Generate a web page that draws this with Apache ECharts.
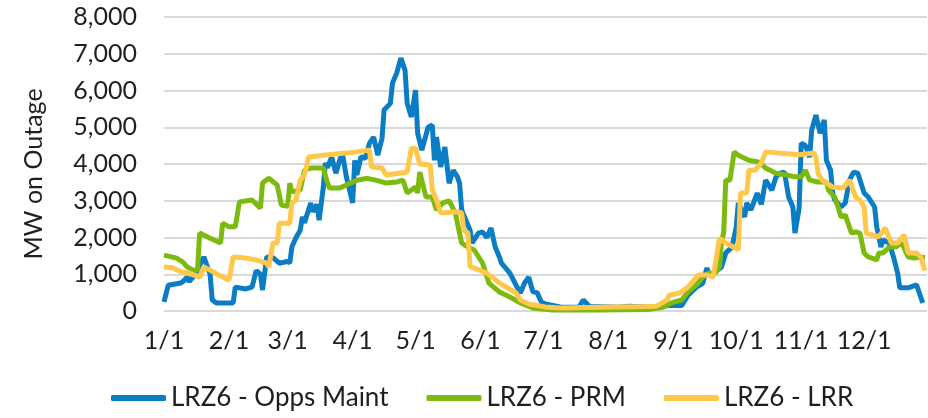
<!DOCTYPE html>
<html>
<head>
<meta charset="utf-8">
<script src="https://cdn.jsdelivr.net/npm/echarts@6/dist/echarts.min.js"></script>
<style>
  html, body { margin: 0; padding: 0; background: #fff; }
  #chart { width: 928px; height: 418px; }
</style>
</head>
<body>
<div id="chart"></div>
<script>
// month lengths of the year, used to build one category per day
var monthDays = [31, 28, 31, 30, 31, 30, 31, 31, 30, 31, 30, 31];
var monthTicks = ['1/1', '2/1', '3/1', '4/1', '5/1', '6/1', '7/1', '8/1', '9/1', '10/1', '11/1', '12/1'];
var yTicks = [0, 1000, 2000, 3000, 4000, 5000, 6000, 7000, 8000];

// [day of year (0 = 1/1), MW]
var oppsMaint = [
  [0, 250], [2, 700], [8, 760], [9, 800], [11, 920], [12, 800], [15, 1000], [19, 1470],
  [22, 1000], [23, 300], [25, 220], [33, 220], [34, 650], [39, 600], [42, 650], [44, 1100],
  [46, 1000], [47, 570], [49, 1470], [52, 1450], [55, 1300], [59, 1350], [60, 1300], [61, 1740],
  [63, 2000], [65, 2200], [66, 2560], [67, 2400], [70, 2940], [71, 2700], [73, 2900], [74, 2470],
  [76, 3370], [77, 4030], [78, 3900], [80, 4190], [82, 3750], [85, 4330], [87, 3650], [90, 2940],
  [91, 4100], [92, 3700], [94, 4200], [96, 4150], [98, 4560], [100, 4730], [102, 4240], [104, 4700],
  [105, 5470], [108, 5650], [109, 6200], [111, 6470], [113, 6880], [115, 6550], [116, 5650], [118, 5280],
  [120, 6010], [121, 4840], [123, 4380], [126, 5000], [128, 5060], [129, 4100], [130, 4730], [132, 3920],
  [134, 4460], [136, 3480], [138, 3830], [140, 3650], [141, 3480], [142, 2750], [144, 2480], [146, 2200],
  [147, 1850], [150, 2120], [152, 2150], [154, 2000], [156, 2260], [158, 1740], [160, 1470], [161, 1300],
  [165, 1030], [168, 700], [170, 490], [172, 760], [174, 920], [176, 520], [178, 500], [180, 245],
  [182, 190], [189, 110], [193, 100], [198, 100], [200, 300], [203, 120], [217, 100], [222, 130],
  [231, 100], [241, 150], [247, 150], [250, 430], [254, 650], [257, 750], [259, 1170], [260, 1000],
  [262, 1030], [266, 1200], [268, 1580], [271, 1740], [273, 2290], [274, 2940], [277, 2560], [278, 2940],
  [280, 2750], [283, 3210], [285, 2900], [287, 3560], [290, 3290], [292, 3650], [294, 3750], [296, 3780],
  [298, 3100], [300, 2830], [301, 2120], [303, 2800], [304, 4570], [306, 4500], [308, 4190], [309, 4920],
  [311, 5330], [313, 4840], [315, 5200], [316, 4100], [318, 3830], [319, 3210], [320, 3020], [323, 2830],
  [325, 2940], [327, 3560], [329, 3780], [331, 3750], [334, 3210], [336, 3100], [339, 2830], [340, 2290],
  [342, 1740], [343, 1930], [346, 1850], [348, 1470], [350, 1030], [351, 630], [355, 630], [359, 710],
  [361, 380], [362, 220]
];

var prm = [
  [0, 1520], [3, 1480], [6, 1440], [9, 1330], [11, 1200], [14, 1110], [16, 1110], [17, 2120],
  [22, 1980], [27, 1850], [28, 2390], [31, 2290], [34, 2290], [36, 2970], [42, 3020], [46, 2800],
  [47, 3480], [50, 3610], [54, 3430], [56, 2880], [59, 2850], [60, 3480], [61, 3240], [65, 3290],
  [67, 3830], [70, 3890], [76, 3890], [78, 3480], [79, 3350], [84, 3350], [87, 3430], [92, 3560],
  [97, 3610], [101, 3560], [106, 3480], [111, 3510], [114, 3560], [116, 3210], [120, 3370], [121, 3210],
  [122, 3780], [125, 3100], [128, 3100], [130, 2750], [133, 2940], [136, 3000], [139, 2670], [140, 2390],
  [142, 1850], [145, 1740], [148, 1660], [152, 1300], [155, 760], [160, 520], [165, 380], [170, 220],
  [176, 80], [185, 30], [208, 30], [231, 40], [238, 100], [242, 220], [247, 300], [250, 520],
  [254, 710], [257, 920], [260, 1030], [263, 1030], [265, 1200], [266, 1930], [267, 2120], [268, 3560],
  [270, 3560], [272, 4330], [274, 4240], [279, 4100], [284, 4050], [287, 3890], [292, 3750], [297, 3700],
  [301, 3650], [304, 3650], [306, 3830], [308, 3560], [312, 3510], [316, 3510], [317, 3290], [320, 3100],
  [322, 2750], [323, 2560], [325, 2610], [328, 2120], [330, 2150], [332, 2120], [334, 1580], [336, 1470],
  [340, 1390], [341, 1580], [343, 1580], [346, 1740], [349, 1740], [352, 1850], [355, 1470], [358, 1440],
  [361, 1470], [363, 1450]
];

var lrr = [
  [0, 1200], [4, 1180], [8, 1070], [12, 1030], [17, 920], [19, 1200], [23, 1080], [28, 920],
  [31, 840], [33, 1470], [38, 1450], [44, 1390], [49, 1300], [50, 1200], [52, 1850], [54, 1850],
  [55, 2390], [60, 2390], [61, 2940], [63, 3020], [65, 3560], [67, 3700], [69, 4190], [76, 4240],
  [92, 4330], [98, 4380], [99, 3920], [104, 3890], [106, 3700], [112, 3750], [116, 3780], [118, 4430],
  [120, 4430], [122, 4000], [127, 3970], [128, 3290], [130, 3020], [132, 2670], [140, 2700], [142, 2670],
  [143, 2200], [145, 2120], [146, 1200], [148, 1170], [154, 1030], [160, 760], [168, 490], [170, 300],
  [174, 190], [182, 110], [189, 80], [208, 100], [231, 120], [235, 130], [240, 300], [241, 430],
  [246, 490], [250, 650], [255, 980], [259, 980], [262, 920], [265, 1980], [268, 1850], [273, 1700],
  [274, 1660], [275, 3210], [278, 3210], [279, 3830], [282, 3830], [285, 4030], [287, 4330], [303, 4250],
  [310, 4300], [311, 4190], [312, 3750], [314, 3560], [319, 3370], [324, 3350], [327, 3560], [330, 3100],
  [332, 3020], [334, 2830], [335, 2120], [341, 2020], [344, 2260], [347, 1850], [350, 1850], [353, 2070],
  [355, 1580], [359, 1580], [361, 1470], [363, 1100]
];

var days = [];
monthDays.forEach(function (n, m) {
  for (var d = 1; d <= n; d++) days.push((m + 1) + '/' + d);
});

var chart = echarts.init(document.getElementById('chart'), null, { renderer: 'canvas' });

var textColor = '#1f1f1f';
var fontFamily = 'Lato';
var fontSize = 25;

chart.setOption({
  animation: false,
  color: ['#0B7DC4', '#7CBA10', '#FFC84A'],
  grid: { left: 164, right: 1, top: 17, bottom: 107 },
  legend: {
    top: 380,
    left: 106,
    icon: 'roundRect',
    itemWidth: 55,
    itemHeight: 6,
    itemGap: 38,
    textStyle: { fontFamily: fontFamily, fontSize: 26, color: textColor }
  },
  xAxis: {
    type: 'category',
    data: days,
    boundaryGap: false,
    axisLine: { show: false },
    axisTick: { show: false },
    axisLabel: {
      interval: function (idx, value) { return monthTicks.indexOf(value) >= 0; },
      margin: 17,
      fontFamily: fontFamily,
      fontSize: fontSize,
      color: textColor
    },
    splitLine: { show: false }
  },
  yAxis: {
    type: 'value',
    min: yTicks[0],
    max: yTicks[yTicks.length - 1],
    interval: 1000,
    name: 'MW on Outage',
    nameLocation: 'middle',
    nameGap: 118,
    nameTextStyle: { fontFamily: fontFamily, fontSize: fontSize, color: textColor, padding: [0, 20, 0, 0] },
    axisLine: { show: false },
    axisTick: { show: false },
    axisLabel: {
      margin: 27,
      fontFamily: fontFamily,
      fontSize: fontSize,
      color: textColor,
      formatter: function (v) { return v.toLocaleString('en-US'); }
    },
    splitLine: { lineStyle: { color: '#D9D9D9', width: 2 } }
  },
  series: [
    { name: 'LRZ6 - Opps Maint', type: 'line', data: oppsMaint, showSymbol: false, symbol: 'none', lineStyle: { width: 5 } },
    { name: 'LRZ6 - PRM', type: 'line', data: prm, showSymbol: false, symbol: 'none', lineStyle: { width: 5 } },
    { name: 'LRZ6 - LRR', type: 'line', data: lrr, showSymbol: false, symbol: 'none', lineStyle: { width: 5 } }
  ]
});
</script>
</body>
</html>
